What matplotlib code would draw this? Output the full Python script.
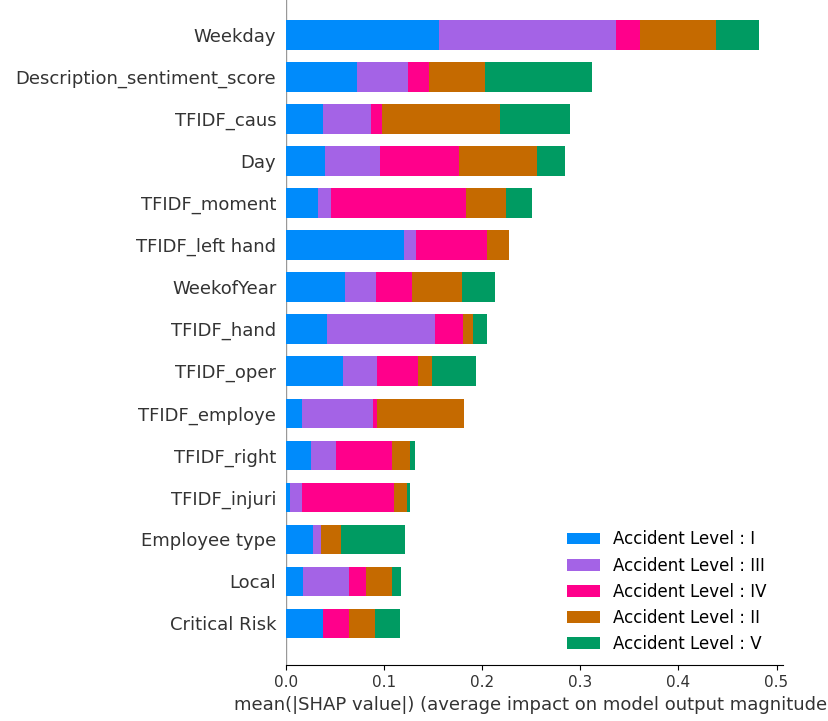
import numpy as np
import matplotlib
matplotlib.use("Agg")
import matplotlib.pyplot as plt

# features, top to bottom
features = ["Weekday", "Description_sentiment_score", "TFIDF_caus", "Day",
            "TFIDF_moment", "TFIDF_left hand", "WeekofYear", "TFIDF_hand",
            "TFIDF_oper", "TFIDF_employe", "TFIDF_right", "TFIDF_injuri",
            "Employee type", "Local", "Critical Risk"]

classes = ["Accident Level : I", "Accident Level : III", "Accident Level : IV",
           "Accident Level : II", "Accident Level : V"]

level_I = [0.156, 0.0724, 0.0377, 0.0398, 0.0326, 0.1203, 0.0601, 0.0418,
           0.0581, 0.0163, 0.0255, 0.0041, 0.0275, 0.0173, 0.0377]
level_III = [0.1804, 0.052, 0.0489, 0.056, 0.0133, 0.0122, 0.0316, 0.1101,
             0.0347, 0.0724, 0.0255, 0.0122, 0.0082, 0.0469, 0.0]
level_IV = [0.0245, 0.0214, 0.0113, 0.0806, 0.1376, 0.0724, 0.0367, 0.0285,
            0.0418, 0.0041, 0.057, 0.0938, 0.0, 0.0174, 0.0265]
level_II = [0.0771, 0.0571, 0.1202, 0.0795, 0.0408, 0.0224, 0.051, 0.0102,
            0.0142, 0.0886, 0.0184, 0.0132, 0.0204, 0.0265, 0.0265]
level_V = [0.0442, 0.109, 0.0714, 0.0285, 0.0265, 0.0, 0.0336, 0.0143,
           0.0449, 0.0, 0.0051, 0.0031, 0.0652, 0.0091, 0.0255]

colors = ["#008bfb", "#a463e6", "#ff008b", "#c56a00", "#009b62"]

fig = plt.figure(figsize=(8.29, 7.21), dpi=100)
ax = fig.add_axes([0.345, 0.077, 0.5995, 0.923])

y = np.arange(len(features))[::-1]
left = np.zeros(len(features))
for vals, name, c in zip([level_I, level_III, level_IV, level_II, level_V], classes, colors):
    vals = np.array(vals)
    ax.barh(y, vals, height=0.7, left=left, color=c, label=name)
    left += vals

ax.axvline(0, color="#999999", lw=1, zorder=-1)
ax.set_xlim(0, 0.5066)
ax.set_ylim(-1, 14.83)
ax.set_yticks(y)
ax.set_yticklabels(features, fontsize=13, color="#333333")
ax.yaxis.set_ticks_position("none")
ax.tick_params(axis="x", labelsize=11, labelcolor="#333333")
ax.set_xticks([0, 0.1, 0.2, 0.3, 0.4, 0.5])
for s in ["top", "right", "left"]:
    ax.spines[s].set_visible(False)
ax.set_xlabel("mean(|SHAP value|) (average impact on model output magnitude)",
              fontsize=13, color="#333333")

ax.legend(frameon=False, fontsize=12, loc="lower right",
          bbox_to_anchor=(0.998, -0.004), handlelength=2.0, labelspacing=0.49)

plt.savefig("out.png", dpi=100)
